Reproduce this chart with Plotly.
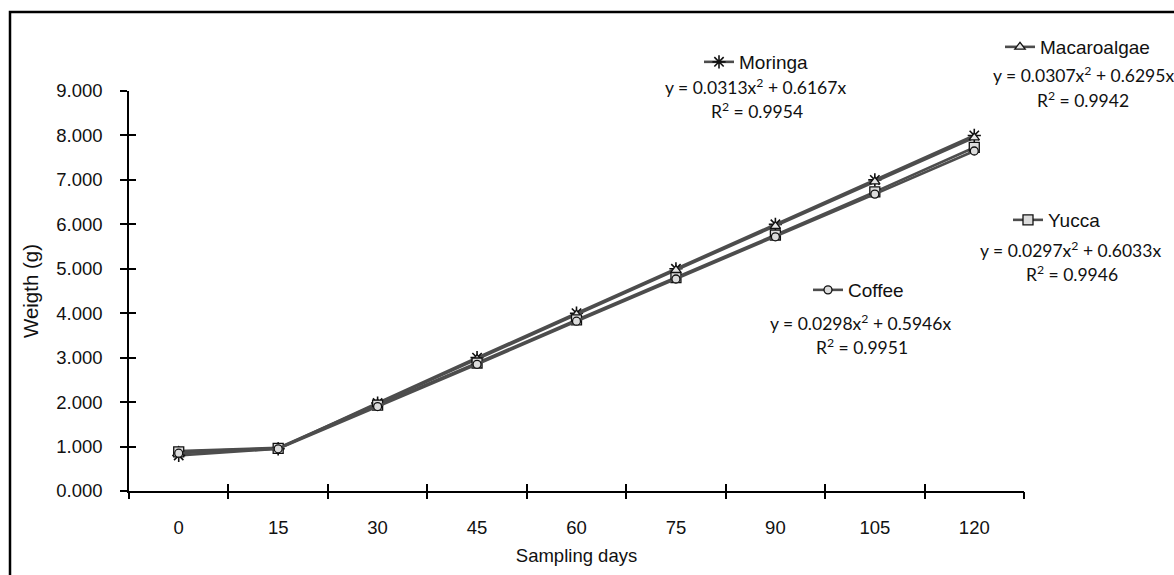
import plotly.graph_objects as go

days = [0, 15, 30, 45, 60, 75, 90, 105, 120]
day_labels = ["0", "15", "30", "45", "60", "75", "90", "105", "120"]
moringa = [0.80, 0.95, 1.98, 3.00, 4.00, 5.00, 6.00, 7.00, 8.00]
macroalgae = [0.90, 0.97, 1.96, 2.97, 3.97, 4.97, 5.96, 6.96, 7.95]
yucca = [0.88, 0.96, 1.93, 2.88, 3.85, 4.80, 5.76, 6.73, 7.73]
coffee = [0.85, 0.95, 1.90, 2.85, 3.82, 4.77, 5.72, 6.68, 7.65]
y_ticks = [0, 1, 2, 3, 4, 5, 6, 7, 8, 9]
boundaries = [-7.5, 7.5, 22.5, 37.5, 52.5, 67.5, 82.5, 97.5, 112.5, 127.5]

W, H = 1174, 575
L, R, T, B = 129, 150, 91, 84
PW, PH = W - L - R, H - T - B


def px(x):
    return (x - L) / PW


def py(y):
    return (H - B - y) / PH


LINE = "#4d4d4d"
series = [
    ("Moringa", moringa, dict(symbol="asterisk-open", size=11, color="#111", line=dict(width=1.6, color="#111")), "legend"),
    ("Macaroalgae", macroalgae, dict(symbol="triangle-up", size=9, color="#e6e6e6", line=dict(width=1.3, color="#111")), "legend2"),
    ("Yucca", yucca, dict(symbol="square", size=10, color="#dcdcdc", line=dict(width=1.3, color="#111")), "legend3"),
    ("Coffee", coffee, dict(symbol="circle", size=8, color="#dcdcdc", line=dict(width=1.3, color="#111")), "legend4"),
]

fig = go.Figure()
for name, vals, mk, lg in series:
    fig.add_trace(go.Scatter(
        x=days, y=vals, name=name, mode="lines+markers",
        line=dict(color=LINE, width=2.6), marker=mk, legend=lg,
    ))

leg_font = dict(family="Liberation Sans, Arial", size=19, color="#111")
legpos = {
    "legend": (699, 62),
    "legend2": (1000, 47),
    "legend3": (1008, 220),
    "legend4": (808, 290),
}
layout_legs = {}
for k, (x0, y0) in legpos.items():
    layout_legs[k] = dict(
        x=px(x0), y=py(y0), xanchor="left", yanchor="middle",
        xref="paper", yref="paper", bgcolor="rgba(0,0,0,0)",
        font=leg_font, borderwidth=0, itemwidth=30,
        tracegroupgap=0,
    )

eq_font = dict(family="Lato, Open Sans, sans-serif", size=17.5, color="#111")
equations = [
    (755, 86, "y = 0.0313x<sup>2</sup> + 0.6167x"),
    (757, 110, "R<sup>2</sup> = 0.9954"),
    (1083, 74, "y = 0.0307x<sup>2</sup> + 0.6295x"),
    (1083, 99, "R<sup>2</sup> = 0.9942"),
    (1070, 249, "y = 0.0297x<sup>2</sup> + 0.6033x"),
    (1072, 273, "R<sup>2</sup> = 0.9946"),
    (860, 322, "y = 0.0298x<sup>2</sup> + 0.5946x"),
    (862, 346, "R<sup>2</sup> = 0.9951"),
]
annotations = [
    dict(x=px(x), y=py(y), xref="paper", yref="paper", text=t, showarrow=False,
         xanchor="center", yanchor="middle", font=eq_font)
    for x, y, t in equations
]

axis_font = dict(family="Liberation Sans, Arial", size=18.5, color="#111")
ytitle_font = dict(family="Liberation Sans, Arial", size=20.5, color="#111")

fig.update_layout(
    width=W, height=H,
    margin=dict(l=L, r=R, t=T, b=B, pad=0),
    paper_bgcolor="white", plot_bgcolor="white",
    showlegend=True,
    annotations=annotations,
    shapes=[dict(type="rect", xref="paper", yref="paper",
                 x0=px(10), x1=px(1190), y0=py(592), y1=py(12),
                 line=dict(color="black", width=2.5), layer="above")],
    xaxis=dict(
        range=[-7.5, 127.5], tickvals=days, ticktext=day_labels,
        ticks="", showgrid=False, zeroline=False,
        showline=True, linecolor="black", linewidth=1.5,
        tickfont=axis_font, ticklabelstandoff=19,
        title=dict(text="Sampling days", font=axis_font, standoff=12),
    ),
    xaxis2=dict(
        overlaying="x", range=[-7.5, 127.5], tickvals=boundaries,
        showticklabels=False, ticks="outside", ticklen=7, tickwidth=1.5,
        tickcolor="black", showgrid=False, zeroline=False, showline=False,
        anchor="y",
    ),
    xaxis3=dict(
        overlaying="x", range=[-7.5, 127.5], tickvals=boundaries,
        showticklabels=False, ticks="inside", ticklen=7, tickwidth=1.5,
        tickcolor="black", showgrid=False, zeroline=False, showline=False,
        anchor="y",
    ),
    yaxis=dict(
        range=[0, 9], tickvals=y_ticks, tickformat=".3f",
        ticks="outside", ticklen=7, tickwidth=1.5, tickcolor="black",
        showgrid=False, zeroline=False,
        showline=True, linecolor="black", linewidth=1.5,
        tickfont=axis_font, ticklabelstandoff=14,
        title=dict(text="Weigth (g)", font=ytitle_font, standoff=12),
    ),
    yaxis2=dict(
        overlaying="y", range=[0, 9], tickvals=y_ticks,
        showticklabels=False, ticks="inside", ticklen=7, tickwidth=1.5,
        tickcolor="black", showgrid=False, zeroline=False, showline=False,
        anchor="x",
    ),
    **layout_legs,
)

# invisible helper traces to activate the overlay tick axes
fig.add_trace(go.Scatter(x=[0], y=[0], xaxis="x2", yaxis="y2", mode="markers",
                         marker=dict(opacity=0), showlegend=False, hoverinfo="skip"))
fig.add_trace(go.Scatter(x=[0], y=[0], xaxis="x3", yaxis="y2", mode="markers",
                         marker=dict(opacity=0), showlegend=False, hoverinfo="skip"))

fig.write_html("out.html")
